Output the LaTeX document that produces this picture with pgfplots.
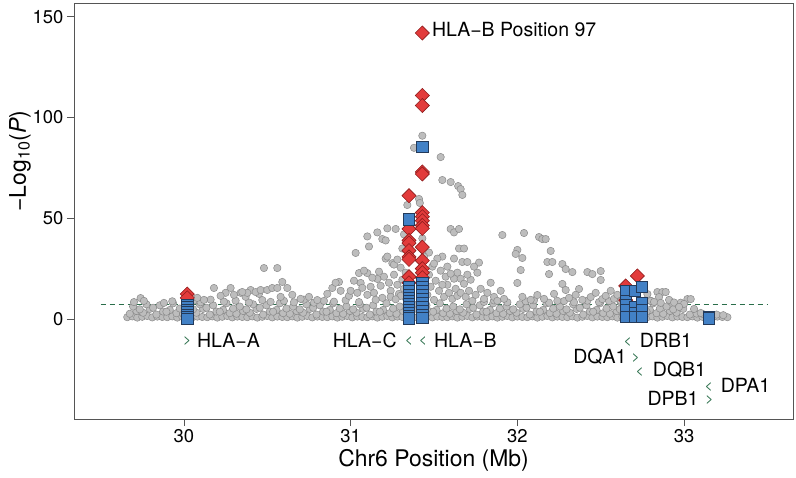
\documentclass[border=0pt]{standalone}
\usepackage{pgfplots}
\pgfplotsset{compat=1.18}
\usepackage{fontspec}
\setmainfont{TeX Gyre Heros}
\definecolor{ptgray}{HTML}{BDBDBD}
\definecolor{ptedge}{HTML}{8A8A8A}
\definecolor{bluefill}{HTML}{4281C6}
\definecolor{blueedge}{HTML}{233A5A}
\definecolor{redfill}{HTML}{E23B3B}
\definecolor{rededge}{HTML}{8E1C1C}
\definecolor{dgreen}{HTML}{2A6E4A}
\definecolor{framec}{HTML}{555555}
\begin{document}
\begin{tikzpicture}
\useasboundingbox (-74bp,-59bp) rectangle (722bp,419bp);
\begin{axis}[
 scale only axis, width=719bp, height=416bp,
 xmin=29.3405, xmax=33.6535, ymin=-49.65, ymax=156.9,
 axis line style={framec, line width=0.8bp},
 xtick={30,31,32,33}, ytick={0,50,100,150},
 tick align=outside, major tick length=7bp,
 xtick pos=bottom, ytick pos=left,
 tick style={framec, line width=0.8bp},
 /pgf/number format/assume math mode=true,
 ticklabel style={font=\fontsize{18.5}{20}\selectfont},
 xlabel={Chr6 Position (Mb)}, ylabel={−Log\textsubscript{10}(\textit{P})},
 label style={font=\fontsize{23}{26}\selectfont},
 xlabel style={at={(axis description cs:0.5,-0.099)}, anchor=center},
 ylabel style={at={(axis description cs:-0.075,0.62)}, anchor=center},
]
% gray points
\addplot[only marks, mark=*, mark size=3.7bp, mark options={fill=ptgray, draw=ptedge, line width=0.5bp}] coordinates {
(29.66,0.9)(29.69,1.3)(29.72,0.7)(29.75,1.1)(29.78,1.5)(29.81,0.8)(29.84,1.2)(29.87,1.0)
(29.90,0.9)(29.93,1.3)(29.96,0.7)(29.99,1.1)(30.02,1.5)(30.05,0.8)(30.08,1.2)(30.11,1.0)
(30.14,0.9)(30.17,1.3)(30.20,0.7)(30.23,1.1)(30.26,1.5)(30.29,0.8)(30.32,1.2)(30.35,1.0)
(30.38,0.9)(30.41,1.3)(30.44,0.7)(30.47,1.1)(30.50,1.5)(30.53,0.8)(30.56,1.2)(30.59,1.0)
(30.62,0.9)(30.65,1.3)(30.68,0.7)(30.71,1.1)(30.74,1.5)(30.77,0.8)(30.80,1.2)(30.83,1.0)
(30.86,0.9)(30.89,1.3)(30.92,0.7)(30.95,1.1)(30.98,1.5)(31.01,0.8)(31.04,1.2)(31.07,1.0)
(31.10,0.9)(31.13,1.3)(31.16,0.7)(31.19,1.1)(31.22,1.5)(31.25,0.8)(31.28,1.2)(31.31,1.0)
(31.34,0.9)(31.37,1.3)(31.40,0.7)(31.43,1.1)(31.46,1.5)(31.49,0.8)(31.52,1.2)(31.55,1.0)
(31.58,0.9)(31.61,1.3)(31.64,0.7)(31.67,1.1)(31.70,1.5)(31.73,0.8)(31.76,1.2)(31.79,1.0)
(31.82,0.9)(31.85,1.3)(31.88,0.7)(31.91,1.1)(31.94,1.5)(31.97,0.8)(32.00,1.2)(32.03,1.0)
(32.06,0.9)(32.09,1.3)(32.12,0.7)(32.15,1.1)(32.18,1.5)(32.21,0.8)(32.24,1.2)(32.27,1.0)
(32.30,0.9)(32.33,1.3)(32.36,0.7)(32.39,1.1)(32.42,1.5)(32.45,0.8)(32.48,1.2)(32.51,1.0)
(32.54,0.9)(32.57,1.3)(32.60,0.7)(32.63,1.1)(32.66,1.5)(32.69,0.8)(32.72,1.2)(32.75,1.0)
(32.78,0.9)(32.81,1.3)(32.84,0.7)(32.87,1.1)(32.90,1.5)(32.93,0.8)(32.96,1.2)(32.99,1.0)
(33.02,0.9)(33.05,1.3)(33.08,0.7)(33.11,1.1)(33.14,1.5)(33.17,0.8)(33.20,1.2)(33.23,1.0)
(33.26,0.9)
(29.675,2.6)(29.715,4.0)(29.755,3.1)(29.795,5.0)(29.835,2.2)(29.875,3.7)(29.915,4.5)(29.955,2.9)
(29.995,2.6)(30.035,4.0)(30.075,3.1)(30.115,5.0)(30.155,2.2)(30.195,3.7)(30.235,4.5)(30.275,2.9)
(30.315,2.6)(30.355,4.0)(30.395,3.1)(30.435,5.0)(30.475,2.2)(30.515,3.7)(30.555,4.5)(30.595,2.9)
(30.635,2.6)(30.675,4.0)(30.715,3.1)(30.755,5.0)(30.795,2.2)(30.835,3.7)(30.875,4.5)(30.915,2.9)
(30.955,2.6)(30.995,4.0)(31.035,3.1)(31.075,5.0)(31.115,2.2)(31.155,3.7)(31.195,4.5)(31.235,2.9)
(31.275,2.6)(31.315,4.0)(31.355,3.1)(31.395,5.0)(31.435,2.2)(31.475,3.7)(31.515,4.5)(31.555,2.9)
(31.595,2.6)(31.635,4.0)(31.675,3.1)(31.715,5.0)(31.755,2.2)(31.795,3.7)(31.835,4.5)(31.875,2.9)
(31.915,2.6)(31.955,4.0)(31.995,3.1)(32.035,5.0)(32.075,2.2)(32.115,3.7)(32.155,4.5)(32.195,2.9)
(32.235,2.6)(32.275,4.0)(32.315,3.1)(32.355,5.0)(32.395,2.2)(32.435,3.7)(32.475,4.5)(32.515,2.9)
(32.555,2.6)(32.595,4.0)(32.635,3.1)(32.675,5.0)(32.715,2.2)(32.755,3.7)(32.795,4.5)(32.835,2.9)
(32.875,2.6)(32.915,4.0)(32.955,3.1)(32.995,5.0)(33.035,2.2)(33.075,2.7)(33.115,2.4)(33.155,2.0)
(33.195,2.2)(33.235,1.9)
(29.695,6.2)(29.735,4.8)(29.775,7.3)(29.815,5.6)(29.855,6.8)(29.895,3.6)(29.935,7.8)(29.975,5.2)
(30.015,6.2)(30.055,4.8)(30.095,7.3)(30.135,5.6)(30.175,6.8)(30.215,3.6)(30.255,7.8)(30.295,5.2)
(30.335,6.2)(30.375,4.8)(30.415,7.3)(30.455,5.6)(30.495,6.8)(30.535,3.6)(30.575,7.8)(30.615,5.2)
(30.655,6.2)(30.695,4.8)(30.735,7.3)(30.775,5.6)(30.815,6.8)(30.855,3.6)(30.895,7.8)(30.935,5.2)
(30.975,6.2)(31.015,4.8)(31.055,7.3)(31.095,5.6)(31.135,6.8)(31.175,3.6)(31.215,7.8)(31.255,5.2)
(31.295,6.2)(31.335,4.8)(31.375,7.3)(31.415,5.6)(31.455,6.8)(31.495,3.6)(31.535,7.8)(31.575,5.2)
(31.615,6.2)(31.655,4.8)(31.695,7.3)(31.735,5.6)(31.775,6.8)(31.815,3.6)(31.855,7.8)(31.895,5.2)
(31.935,6.2)(31.975,4.8)(32.015,7.3)(32.055,5.6)(32.095,6.8)(32.135,3.6)(32.175,7.8)(32.215,5.2)
(32.255,6.2)(32.295,4.8)(32.335,7.3)(32.375,5.6)(32.415,6.8)(32.455,3.6)(32.495,7.8)(32.535,5.2)
(32.575,6.2)(32.615,4.8)(32.655,7.3)(32.695,5.6)(32.735,6.8)(32.775,3.6)(32.815,7.8)(32.855,5.2)
(32.895,6.2)(32.935,4.8)(32.975,7.3)
(29.70,8.4)(29.74,10.4)(29.76,9.0)(29.88,8.0)(29.93,8.8)(30.06,9.2)(30.10,8.3)(30.16,9.6)
(30.24,8.6)(30.31,9.1)(30.39,8.2)(30.47,9.4)(30.52,8.5)(30.60,9.0)(30.66,8.3)(30.72,9.6)
(30.78,8.1)(30.84,9.0)(30.90,8.6)(30.97,9.3)(31.05,8.4)(31.80,8.5)(31.86,9.2)(31.94,8.3)
(32.05,8.8)(32.10,9.3)(32.19,8.1)(32.28,8.9)(32.34,8.3)(32.42,9.1)(32.49,8.4)(32.55,8.9)
(32.62,8.2)(32.80,9.0)(32.92,8.6)(32.98,8.1)
(30.18,15.4)(30.28,15.4)(30.25,13.0)(30.34,13.0)(30.37,11.0)(30.40,14.4)(30.22,11.5)(30.30,12.0)
(30.45,12.5)(30.12,9.5)(30.08,10.5)(30.48,25.3)(30.56,25.3)(30.38,13.0)(30.43,13.4)(30.46,14.4)
(30.50,14.4)(30.53,15.4)(30.56,15.4)(30.59,18.4)(30.62,15.4)(30.58,11.0)(30.35,13.4)(30.70,10.0)
(30.80,9.4)(30.65,12.0)(30.75,11.0)(30.86,12.5)(30.89,15.4)(30.93,18.4)(30.91,18.0)(30.94,14.0)
(31.03,32.8)(31.10,41.0)(31.11,36.0)(31.16,43.0)(31.22,45.0)(31.27,44.7)(31.19,39.7)(31.21,30.0)
(31.25,27.7)(31.05,22.8)(31.10,22.8)(31.16,19.9)(31.06,17.9)(30.99,11.5)(31.10,12.0)(31.21,39.0)
(31.22,31.0)(31.26,27.0)(31.00,14.0)(31.02,19.0)(31.04,13.0)(31.07,15.5)(31.08,24.0)(31.12,16.0)
(31.13,20.5)(31.14,13.0)(31.17,23.5)(31.18,16.5)(31.20,21.0)(31.23,18.0)(31.24,14.0)(31.26,22.0)
(31.28,17.0)(31.29,12.5)(31.30,25.5)(31.31,19.5)(31.32,15.0)(31.33,10.5)(31.28,29.5)(31.31,35.0)
(31.32,42.0)(31.33,23.0)(31.30,11.5)(31.19,10.5)(31.15,9.5)(31.24,11.0)(31.27,9.8)
(31.34,56.6)(31.41,59.6)(31.415,57.6)(31.43,91.0)(31.38,85.0)(31.43,40.0)(31.47,33.0)(31.44,31.0)
(31.54,80.4)(31.55,69.0)(31.60,68.0)(31.645,66.0)(31.66,64.5)(31.67,61.6)
(31.60,44.7)(31.62,43.0)(31.65,44.7)(31.65,35.0)(31.68,35.0)(31.55,31.0)(31.77,28.0)(31.67,28.3)
(31.70,28.3)(31.58,26.0)(31.64,23.0)(31.62,20.0)(31.66,20.0)(31.57,21.0)(31.52,30.0)(31.49,26.0)
(31.46,12.0)(31.48,16.0)(31.50,9.5)(31.51,19.0)(31.53,14.0)(31.54,24.0)(31.56,11.0)(31.58,17.0)
(31.59,13.0)(31.61,10.0)(31.63,15.0)(31.64,11.5)(31.66,13.0)(31.68,17.5)(31.69,11.0)(31.71,14.0)
(31.72,19.5)(31.73,9.0)(31.75,12.0)(31.76,23.0)(31.78,15.0)(31.80,10.0)(31.82,13.0)(31.84,18.0)
(31.86,11.0)(31.88,9.0)(31.90,14.0)(31.92,10.0)(31.47,22.0)(31.50,27.5)(31.55,17.0)(31.60,22.5)
(31.62,30.0)(31.70,22.0)(31.74,26.0)
(31.91,41.7)(32.04,42.7)(32.13,40.7)(32.15,39.7)(32.17,39.7)(32.20,33.8)(32.00,34.3)(31.99,32.3)
(32.03,30.3)(32.18,28.3)(32.21,28.3)(32.02,24.3)(32.19,22.3)(32.27,27.3)(32.29,24.8)(32.33,23.3)
(32.00,17.9)(32.27,17.4)(32.42,23.3)(32.45,22.3)(32.50,23.8)(32.50,19.4)(32.37,14.9)(32.29,14.4)
(32.44,10.9)(32.51,9.9)(32.12,11.9)(32.03,11.0)(32.08,9.5)(32.16,10.0)(32.22,12.5)(32.24,9.0)
(32.31,10.5)(32.35,12.0)(32.39,9.5)(32.47,13.0)(32.53,11.5)(32.56,14.0)(32.58,10.0)
(32.78,12.4)(32.84,13.4)(32.87,13.4)(32.89,13.4)(32.85,10.9)(33.02,9.9)(33.04,9.9)(32.80,9.0)
(32.82,8.5)(32.86,8.0)(32.91,9.5)(32.94,8.2)(33.00,7.5)(32.60,12.0)(32.62,9.0)(32.97,6.0)
(33.06,5.0)(33.10,3.0)
};
% red diamonds
\addplot[only marks, mark=square*, mark size=5bp, mark options={rotate=45, fill=redfill, draw=rededge, line width=0.6bp}] coordinates {
(30.02,12.4)(30.02,10.5)
(31.35,61.2)(31.35,44.7)(31.35,39.0)(31.35,37.7)(31.35,34.0)(31.35,30.8)(31.35,29.6)(31.35,21.0)(31.35,18.0)
(31.43,142.0)(31.43,111.0)(31.43,106.0)(31.43,73.0)(31.43,72.0)(31.43,52.8)(31.43,50.8)(31.43,48.8)(31.43,46.5)(31.43,45.0)(31.43,35.7)(31.43,29.0)(31.43,25.0)(31.43,23.0)(31.43,20.5)
(32.72,21.4)(32.65,16.4)(32.65,9.4)
};
% blue squares
\addplot[only marks, mark=square*, mark size=5.6bp, mark options={fill=bluefill, draw=blueedge, line width=0.6bp}] coordinates {
(30.02,7.0)(30.02,5.8)(30.02,4.6)(30.02,3.4)(30.02,2.2)(30.02,1.0)(30.02,0.2)
(31.35,49.5)(31.35,16.0)(31.35,14.0)(31.35,12.0)(31.35,10.5)(31.35,9.0)(31.35,7.5)(31.35,6.0)(31.35,4.5)(31.35,3.0)(31.35,1.5)(31.35,0.3)
(31.43,85.5)(31.43,18.0)(31.43,16.0)(31.43,14.0)(31.43,12.0)(31.43,10.0)(31.43,8.0)(31.43,6.0)(31.43,4.0)(31.43,2.0)(31.43,0.5)
(32.65,14.0)(32.65,9.0)(32.65,7.0)(32.65,4.5)(32.65,1.0)
(32.705,14.0)(32.705,6.0)(32.705,3.0)(32.705,1.0)
(32.745,16.0)(32.745,8.0)(32.745,4.5)(32.745,1.0)
(33.15,1.0)(33.15,0.3)
};
\addplot[dgreen, line width=1.1bp, dash pattern=on 5bp off 4bp] coordinates {(29.5,7.3) (33.5,7.3)};
% annotations
\begin{scope}[every node/.style={inner sep=0pt, font=\fontsize{19.6}{22}\selectfont}]
\node[anchor=west] at (axis cs:31.487,143.5) {HLA−B Position 97};
\node[anchor=west] at (axis cs:30.078,-10.4) {HLA−A};
\node[anchor=east] at (axis cs:31.277,-10.4) {HLA−C};
\node[anchor=west] at (axis cs:31.499,-10.4) {HLA−B};
\node[anchor=west] at (axis cs:32.734,-10.4) {DRB1};
\node[anchor=east] at (axis cs:32.656,-18.9) {DQA1};
\node[anchor=west] at (axis cs:32.812,-25.3) {DQB1};
\node[anchor=west] at (axis cs:33.219,-32.8) {DPA1};
\node[anchor=east] at (axis cs:33.088,-39.2) {DPB1};
\end{scope}
\begin{scope}[every node/.style={inner sep=0pt, text=dgreen, font=\fontsize{14}{15}\selectfont}]
\node at (axis cs:30.02,-10.9) {>};
\node at (axis cs:31.349,-10.9) {<};
\node at (axis cs:31.433,-10.9) {<};
\node at (axis cs:32.662,-11.4) {<};
\node at (axis cs:32.71,-19.4) {>};
\node at (axis cs:32.734,-26.3) {<};
\node at (axis cs:33.148,-33.6) {<};
\node at (axis cs:33.153,-40.0) {>};
\end{scope}
\end{axis}
\end{tikzpicture}
\end{document}
